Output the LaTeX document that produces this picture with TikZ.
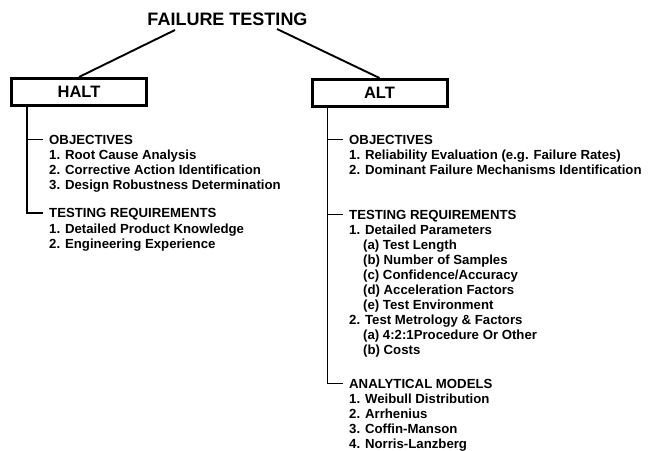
\documentclass[tikz,border=0pt]{standalone}
\usepackage{fontspec}
\setmainfont{Liberation Sans}
\usepackage{tikz}
\usetikzlibrary{positioning}
\usetikzlibrary{calc}

\tikzset{
	box/.style = {draw, rectangle, line width = 3pt, minimum width = 135pt, minimum height = 27pt, inner sep = 0pt, font = \fontsize{16.5}{16.5}\selectfont\bfseries},
	head/.style = {anchor = west, inner sep = 0pt, text height = 9pt, text depth = 0pt, font = \fontsize{13.2}{13.2}\selectfont\bfseries},
	item/.style = {anchor = base west, inner sep = 0pt, font = \fontsize{13.2}{13.2}\selectfont\bfseries},
	tree/.style = {line width = 1.9pt},
}

\begin{document}
\begin{tikzpicture}[x = 1pt, y = -1pt]
		\useasboundingbox (0,0) rectangle (648,450);
		\node[anchor = base, inner sep = 0pt, font = \fontsize{18}{18}\selectfont\bfseries] at (227.5,25) (title) {FAILURE TESTING};
		\coordinate (tl) at (175,30);
		\coordinate (tr) at (277,29);
		\node[box] at (79,92) (halt) {HALT};
		\node[box] at (379.5,93) (alt) {ALT};
		\draw[tree] (tl) to (halt.north);
		\draw[tree] (tr) to (alt.north);
		% HALT
		\node[head] at (49,139.5) (hobj) {OBJECTIVES};
		\node[item] at (49,159) (hobj1) {1. Root Cause Analysis};
		\node[item] at (49,174) (hobj2) {2. Corrective Action Identification};
		\node[item] at (49,189) (hobj3) {3. Design Robustness Determination};
		\node[head] at (49,213) (hreq) {TESTING REQUIREMENTS};
		\node[item] at (49,233) (hreq1) {1. Detailed Product Knowledge};
		\node[item] at (49,248) (hreq2) {2. Engineering Experience};
		\coordinate (hx) at ($(halt.south west)+(17,0)$);
		\draw[tree] (hx) |- ([xshift = -6pt]hreq.west);
		\draw[tree] (hx |- hobj.west) to ([xshift = -6pt]hobj.west);
		% ALT
		\node[head] at (349,139.5) (aobj) {OBJECTIVES};
		\node[item] at (349,159) (aobj1) {1. Reliability Evaluation (e.g. Failure Rates)};
		\node[item] at (349,174) (aobj2) {2. Dominant Failure Mechanisms Identification};
		\node[head] at (349,214.5) (areq) {TESTING REQUIREMENTS};
		\node[item] at (349,234) (areq1) {1. Detailed Parameters};
		\node[item] at (363,249) (areq1a) {(a) Test Length};
		\node[item] at (363,264) (areq1b) {(b) Number of Samples};
		\node[item] at (363,279) (areq1c) {(c) Confidence/Accuracy};
		\node[item] at (363,294) (areq1d) {(d) Acceleration Factors};
		\node[item] at (363,309) (areq1e) {(e) Test Environment};
		\node[item] at (349,324) (areq2) {2. Test Metrology \& Factors};
		\node[item] at (363,339) (areq2a) {(a) 4:2:1Procedure Or Other};
		\node[item] at (363,354) (areq2b) {(b) Costs};
		\node[head] at (349,383.5) (amod) {ANALYTICAL MODELS};
		\node[item] at (349,403) (amod1) {1. Weibull Distribution};
		\node[item] at (349,418) (amod2) {2. Arrhenius};
		\node[item] at (349,433) (amod3) {3. Coffin-Manson};
		\node[item] at (349,448) (amod4) {4. Norris-Lanzberg};
		\coordinate (ax) at ($(alt.south west)+(17,0)$);
		\draw[tree] (ax) |- ([xshift = -6pt]amod.west);
		\draw[tree] (ax |- aobj.west) to ([xshift = -6pt]aobj.west);
		\draw[tree] (ax |- areq.west) to ([xshift = -6pt]areq.west);
	\end{tikzpicture}
\end{document}
